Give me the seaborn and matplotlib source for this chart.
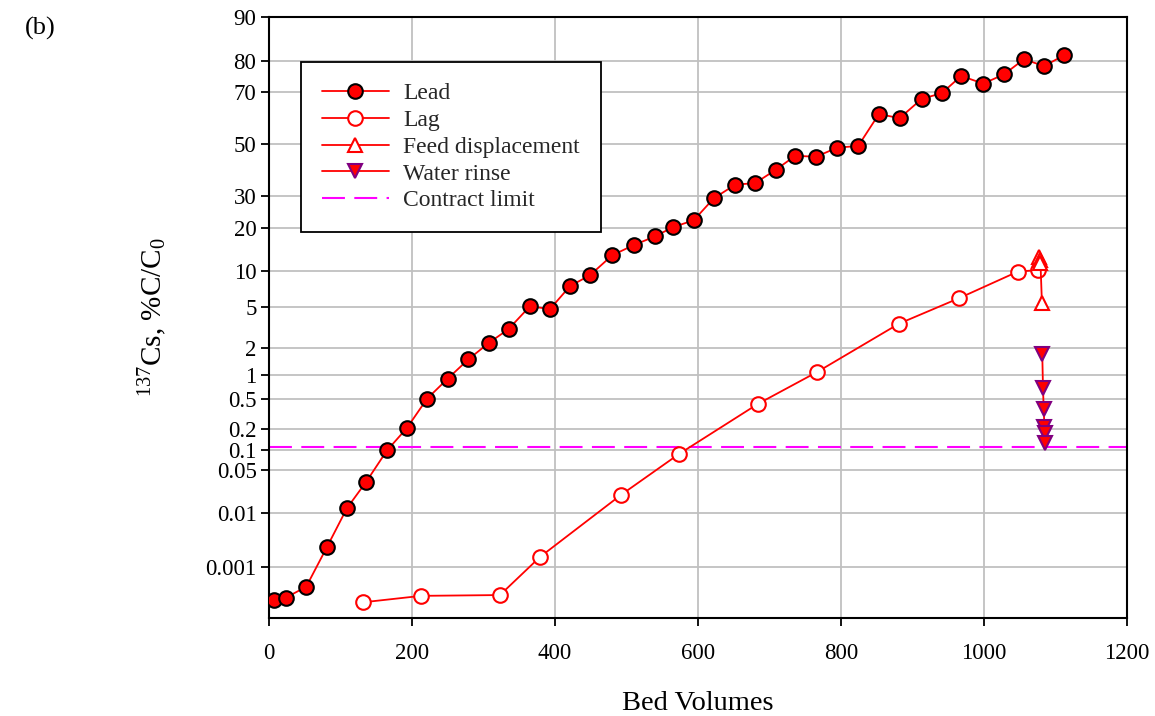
import math
import numpy as np
import pandas as pd
import matplotlib
matplotlib.use("Agg")
import matplotlib.pyplot as plt
import seaborn as sns
from matplotlib.lines import Line2D

# ---------------- data ----------------
lead_bv = [7, 24, 52, 81, 109, 136, 165, 193, 221, 250, 279, 308, 335, 365, 393,
           421, 449, 480, 510, 540, 565, 594, 622, 652, 680, 709, 736, 765, 795, 824,
           853, 882, 913, 941, 968, 999, 1028, 1056, 1084, 1112]
lead_pct = [0.000214, 0.00024, 0.0004, 0.0024, 0.012, 0.033, 0.10, 0.21, 0.51, 0.90,
            1.5, 2.26, 3.1, 5.1, 4.8, 7.6, 9.3, 13.1, 15.4, 17.6, 20.1, 22.1, 29.2,
            34.1, 34.7, 39.8, 45.3, 44.9, 48.6, 49.2, 61.9, 60.3, 67.6, 69.6, 75.4,
            72.9, 75.9, 80.4, 78.4, 81.5]

lag_bv = [131, 213, 323, 379, 492, 573, 684, 767, 881, 965, 1047, 1075]
lag_pct = [0.00019, 0.00026, 0.00027, 0.00156, 0.020, 0.088, 0.44, 1.08, 3.5, 6.0, 9.9, 10.2]

feed_bv = [1077, 1078, 1079, 1081]
feed_pct = [12.8, 12.1, 11.5, 5.5]

rinse_bv = [1081.5, 1082.5, 1083.5, 1084.5, 1085.0, 1085.7]
rinse_pct = [1.70, 0.70, 0.375, 0.219, 0.181, 0.128]

contract_limit = 0.113

y_ticks = [0.001, 0.01, 0.05, 0.1, 0.2, 0.5, 1, 2, 5, 10, 20, 30, 50, 70, 80, 90]
y_tick_labels = ["0.001", "0.01", "0.05", "0.1", "0.2", "0.5", "1", "2", "5",
                 "10", "20", "30", "50", "70", "80", "90"]
x_ticks = [0, 200, 400, 600, 800, 1000, 1200]

# ---------------- normal probability scale ----------------
_A = [-3.969683028665376e+01, 2.209460984245205e+02, -2.759285104469687e+02,
      1.383577518672690e+02, -3.066479806614716e+01, 2.506628277459239e+00]
_B = [-5.447609879822406e+01, 1.615858368580409e+02, -1.556989798598866e+02,
      6.680131188771972e+01, -1.328068155288572e+01]
_C = [-7.784894002430293e-03, -3.223964580411365e-01, -2.400758277161838e+00,
      -2.549732539343734e+00, 4.374664141464968e+00, 2.938163982698783e+00]
_D = [7.784695709041462e-03, 3.224671290700398e-01, 2.445134137142996e+00,
      3.754408661907416e+00]


def _ppf_scalar(p):
    if not np.isfinite(p):
        return np.nan
    p = min(max(p, 1e-15), 1 - 1e-15)
    plow = 0.02425
    if p < plow:
        q = math.sqrt(-2 * math.log(p))
        x = (((((_C[0]*q+_C[1])*q+_C[2])*q+_C[3])*q+_C[4])*q+_C[5]) / \
            ((((_D[0]*q+_D[1])*q+_D[2])*q+_D[3])*q+1)
    elif p > 1 - plow:
        q = math.sqrt(-2 * math.log(1 - p))
        x = -(((((_C[0]*q+_C[1])*q+_C[2])*q+_C[3])*q+_C[4])*q+_C[5]) / \
            ((((_D[0]*q+_D[1])*q+_D[2])*q+_D[3])*q+1)
    else:
        q = p - 0.5
        r = q * q
        x = (((((_A[0]*r+_A[1])*r+_A[2])*r+_A[3])*r+_A[4])*r+_A[5])*q / \
            (((((_B[0]*r+_B[1])*r+_B[2])*r+_B[3])*r+_B[4])*r+1)
    e = 0.5 * math.erfc(-x / math.sqrt(2)) - p
    u = e * math.sqrt(2 * math.pi) * math.exp(x * x / 2)
    x = x - u / (1 + x * u / 2)
    return x


_ppf_v = np.vectorize(_ppf_scalar, otypes=[float])
_cdf_v = np.vectorize(lambda z: 0.5 * math.erfc(-z / math.sqrt(2)) if np.isfinite(z) else np.nan,
                      otypes=[float])


def forward(pct):
    a = np.asarray(pct, dtype=float)
    return _ppf_v(a / 100.0)


def inverse(z):
    a = np.asarray(z, dtype=float)
    return 100.0 * _cdf_v(a)


# ---------------- style ----------------
sns.set_theme(style="white")
plt.rcParams["font.family"] = ["Liberation Serif", "DejaVu Serif"]
plt.rcParams["mathtext.fontset"] = "custom"
plt.rcParams["mathtext.rm"] = "Liberation Serif"
plt.rcParams["mathtext.it"] = "Liberation Serif:italic"

fig = plt.figure(figsize=(11.55, 7.16), dpi=100)
ax = fig.add_axes([269/1155, 1 - 618/716, (1127-269)/1155, (618-17)/716])

ax.set_yscale("function", functions=(forward, inverse))

grid_c = "#c0c0c0"
ax.grid(True, color=grid_c, lw=1.3, zorder=0)
ax.set_axisbelow(True)

red = "#FF0000"
lw = 1.3
ms = 10.5

df_lead = pd.DataFrame({"bv": lead_bv, "pct": lead_pct})
df_lag = pd.DataFrame({"bv": lag_bv, "pct": lag_pct})
df_feed = pd.DataFrame({"bv": feed_bv, "pct": feed_pct})
df_rinse = pd.DataFrame({"bv": rinse_bv, "pct": rinse_pct})

ax.axhline(contract_limit, color="#FF00FF", lw=1.5, linestyle=(0, (11, 4.5)),
           zorder=2, label="_nolegend_")

sns.lineplot(data=df_lag, x="bv", y="pct", ax=ax, sort=False, estimator=None,
             color=red, lw=lw, marker="o", markersize=ms, markerfacecolor="white",
             markeredgecolor=red, markeredgewidth=1.5, zorder=3)
sns.lineplot(data=df_feed, x="bv", y="pct", ax=ax, sort=False, estimator=None,
             color=red, lw=lw, marker="^", markersize=ms, markerfacecolor="white",
             markeredgecolor=red, markeredgewidth=1.5, zorder=3)
sns.lineplot(data=df_rinse, x="bv", y="pct", ax=ax, sort=False, estimator=None,
             color=red, lw=lw, marker="v", markersize=ms, markerfacecolor=red,
             markeredgecolor="#800080", markeredgewidth=1.5, zorder=3)
sns.lineplot(data=df_lead, x="bv", y="pct", ax=ax, sort=False, estimator=None,
             color=red, lw=lw, marker="o", markersize=ms, markerfacecolor=red,
             markeredgecolor="black", markeredgewidth=1.5, zorder=4)

ax.set_xlim(0, 1200)
ax.set_ylim(inverse(-4.78), 90)
ax.set_xticks(x_ticks)
ax.set_xticklabels([str(t) for t in x_ticks])
ax.set_yticks(y_ticks)
ax.set_yticklabels(y_tick_labels)
ax.minorticks_off()
ax.yaxis.set_minor_locator(matplotlib.ticker.NullLocator())

ax.tick_params(axis="both", which="major", direction="out", length=6, width=1.3,
               color="black", labelsize=16.5, labelcolor="black", left=True, bottom=True)
ax.tick_params(axis="x", pad=12)
ax.tick_params(axis="y", pad=3)

for sp in ax.spines.values():
    sp.set_visible(True)
    sp.set_color("black")
    sp.set_linewidth(1.5)

ax.set_xlabel("Bed Volumes", fontsize=20.5, color="black")
ax.set_ylabel(r"$^{137}$Cs, %C/C$_0$", fontsize=21, color="black")
ax.xaxis.set_label_coords(0.5, -0.122)
ax.yaxis.set_label_coords(-0.117, 0.5)

# legend
handles = [
    Line2D([], [], color=red, lw=lw, marker="o", markersize=ms, markerfacecolor=red,
           markeredgecolor="black", markeredgewidth=1.5),
    Line2D([], [], color=red, lw=lw, marker="o", markersize=ms, markerfacecolor="white",
           markeredgecolor=red, markeredgewidth=1.5),
    Line2D([], [], color=red, lw=lw, marker="^", markersize=ms, markerfacecolor="white",
           markeredgecolor=red, markeredgewidth=1.5),
    Line2D([], [], color=red, lw=lw, marker="v", markersize=ms, markerfacecolor=red,
           markeredgecolor="#800080", markeredgewidth=1.5),
    Line2D([], [], color="#FF00FF", lw=1.5, linestyle=(0, (11, 4.5))),
]
labels = ["Lead", "Lag", "Feed displacement", "Water rinse", "Contract limit"]
leg = ax.legend(handles, labels, loc="upper left", bbox_to_anchor=(0.0373, 0.925),
                borderaxespad=0, fontsize=17, frameon=True, fancybox=False,
                framealpha=1, edgecolor="black", handlelength=2.85, handletextpad=0.6,
                labelspacing=0.22, borderpad=0.88)
leg.get_frame().set_linewidth(1.3)

fig.text(25/1155, 1 - 28/716, "(b)", fontsize=19, va="center", ha="left", color="black")

fig.savefig("out.png", dpi=100)
